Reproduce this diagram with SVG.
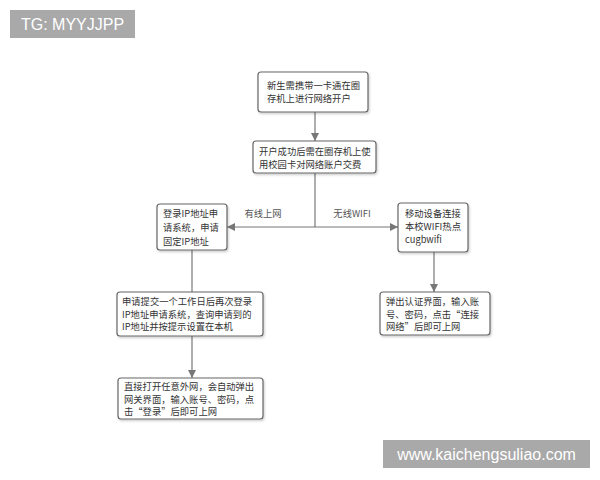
<svg xmlns="http://www.w3.org/2000/svg" width="600" height="480" viewBox="0 0 600 480">
<style>
.box{fill:#fff;stroke:#666;stroke-width:1.2}
.t{font-family:"Noto Sans CJK SC","Liberation Sans",sans-serif;font-size:9.3px;fill:#333}
.lbl{font-family:"Noto Sans CJK SC","Liberation Sans",sans-serif;font-size:9.3px;fill:#555;text-anchor:middle}
.wm{fill:#a9a9a9}
.wt{font-family:"Liberation Sans",Arial,sans-serif;fill:#fff}
.c{stroke:#777;stroke-width:1.2;fill:none}
</style>
<defs>
<marker id="ah" viewBox="0 0 10 10" refX="10" refY="5" markerWidth="8" markerHeight="8" markerUnits="userSpaceOnUse" orient="auto">
<path d="M0,0 L10,5 L0,10 Z" fill="#777"/>
</marker>
<filter id="sh" x="-10%" y="-10%" width="130%" height="140%">
<feDropShadow dx="1" dy="1.5" stdDeviation="1" flood-color="#000" flood-opacity="0.2"/>
</filter>
</defs>
<rect width="600" height="480" fill="#fff"/>
<g id="tag"><rect class="wm" x="10" y="10" width="125" height="28"/><text class="wt" x="72.5" y="30" font-size="16" text-anchor="middle">TG: MYYJJPP</text></g>
<g id="watermark"><rect class="wm" x="383" y="440" width="207" height="28"/><text class="wt" x="486.5" y="460" font-size="16" text-anchor="middle">www.kaichengsuliao.com</text></g>
<g id="connectors">
<line class="c" x1="315" y1="112" x2="315" y2="141" marker-end="url(#ah)"/>
<line class="c" x1="315" y1="173" x2="315" y2="227"/>
<line class="c" x1="315" y1="227" x2="227" y2="227" marker-end="url(#ah)"/>
<line class="c" x1="315" y1="227" x2="398" y2="227" marker-end="url(#ah)"/>
<line class="c" x1="192" y1="250" x2="192" y2="292"/>
<line class="c" x1="192" y1="336" x2="192" y2="378" marker-end="url(#ah)"/>
<line class="c" x1="434" y1="252" x2="434" y2="292" marker-end="url(#ah)"/>
<text class="lbl" x="263" y="217">有线上网</text>
<text class="lbl" x="352" y="217">无线WIFI</text>
</g>
<g id="n1"><rect class="box" filter="url(#sh)" x="258" y="72" width="110" height="40" rx="3"/>
<text class="t" x="267" y="89">新生需携带一卡通在圈</text><text class="t" x="267" y="102">存机上进行网络开户</text></g>
<g id="n2"><rect class="box" filter="url(#sh)" x="253" y="141" width="123" height="32" rx="3"/>
<text class="t" x="259" y="155">开户成功后需在圈存机上使</text><text class="t" x="259" y="168">用校园卡对网络账户交费</text></g>
<g id="n3"><rect class="box" filter="url(#sh)" x="157" y="204" width="70" height="46" rx="3"/>
<text class="t" x="163" y="217">登录IP地址申</text><text class="t" x="163" y="231">请系统，申请</text><text class="t" x="163" y="245">固定IP地址</text></g>
<g id="n4"><rect class="box" filter="url(#sh)" x="398" y="203" width="70" height="49" rx="3"/>
<text class="t" x="405" y="217">移动设备连接</text><text class="t" x="405" y="230">本校WIFI热点</text><text class="t" x="405" y="243">cugbwifi</text></g>
<g id="n5"><rect class="box" filter="url(#sh)" x="117" y="292" width="146" height="44" rx="3"/>
<text class="t" x="122" y="305">申请提交一个工作日后再次登录</text><text class="t" x="122" y="317.5">IP地址申请系统，查询申请到的</text><text class="t" x="122" y="330">IP地址并按提示设置在本机</text></g>
<g id="n6"><rect class="box" filter="url(#sh)" x="380" y="292" width="110" height="43" rx="3"/>
<text class="t" x="386" y="305">弹出认证界面，输入账</text><text class="t" x="386" y="317.5">号、密码，点击“连接</text><text class="t" x="386" y="330">网络”后即可上网</text></g>
<g id="n7"><rect class="box" filter="url(#sh)" x="118" y="378" width="145" height="41" rx="3"/>
<text class="t" x="124" y="390">直接打开任意外网，会自动弹出</text><text class="t" x="124" y="402.5">网关界面，输入账号、密码，点</text><text class="t" x="124" y="415">击“登录”后即可上网</text></g>
</svg>
